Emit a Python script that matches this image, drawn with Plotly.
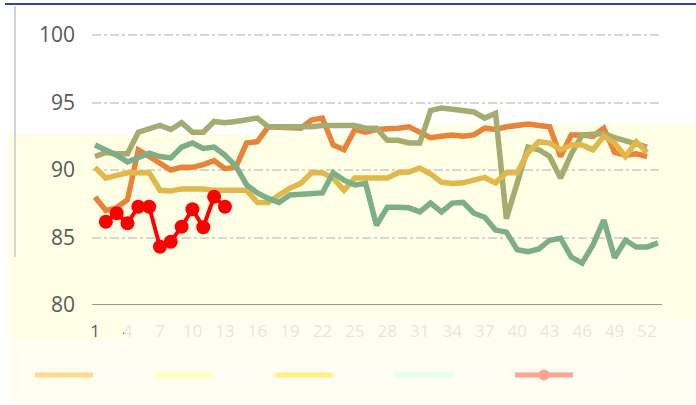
import plotly.graph_objects as go

weeks = list(range(1, 54))
tick_weeks = [1, 4, 7, 10, 13, 16, 19, 22, 25, 28, 31, 34, 37, 40, 43, 46, 49, 52]
y_ticks = [80, 85, 90, 95, 100]
names = ["2017年", "2018年", "2019年", "2020年", "2021年"]

s2017 = [88.0, 87.0, 87.2, 87.8, 91.5, 91.0, 90.5, 90.0, 90.2, 90.2,
         90.4, 90.7, 90.1, 90.2, 92.0, 92.1, 93.2, 93.2, 93.2, 93.1,
         93.7, 93.85, 91.85, 91.5, 93.0, 92.8, 93.0, 93.0, 93.1, 93.2,
         92.8, 92.4, 92.5, 92.6, 92.5, 92.6, 93.1, 93.0, 93.2, 93.3,
         93.4, 93.3, 93.2, 91.0, 92.6, 92.6, 92.5, 93.1, 91.3, 91.1,
         91.2, 91.0]
s2018 = [91.0, 91.3, 91.2, 91.2, 92.8, 93.1, 93.3, 93.0, 93.5, 92.8,
         92.8, 93.6, 93.5, 93.6, 93.7, 93.85, 93.2, 93.2, 93.1, 93.1,
         93.2, 93.3, 93.3, 93.3, 93.3, 93.1, 93.1, 92.2, 92.2, 92.0,
         92.0, 94.4, 94.6, 94.5, 94.4, 94.3, 93.85, 94.2, 86.4, 89.2,
         91.7, 91.5, 91.0, 89.4, 91.2, 92.6, 92.7, 92.7, 92.4, 92.2,
         92.0, 91.7]
s2019 = [90.2, 89.4, 89.6, 89.8, 89.8, 89.8, 88.5, 88.45, 88.6, 88.65,
         88.6, 88.5, 88.5, 88.5, 88.5, 87.6, 87.6, 88.15, 88.65, 89.0,
         89.8, 89.8, 89.4, 88.5, 89.4, 89.4, 89.4, 89.4, 89.8, 89.85,
         90.15, 89.7, 89.1, 89.0, 89.05, 89.25, 89.45, 89.05, 89.8, 89.8,
         91.3, 92.1, 92.0, 91.5, 91.85, 91.85, 91.5, 92.5, 92.0, 91.0,
         92.1, 91.3]
s2020 = [91.85, 91.5, 91.1, 90.6, 90.9, 91.25, 91.0, 90.9, 91.7, 92.0,
         91.6, 91.7, 91.1, 90.3, 88.9, 88.3, 87.9, 87.6, 88.15, 88.2,
         88.2, 88.3, 89.8, 89.25, 88.9, 89.0, 85.9, 87.25, 87.25, 87.2,
         86.9, 87.55, 86.9, 87.55, 87.6, 86.8, 86.5, 85.55, 85.4, 84.1,
         83.95, 84.15, 84.8, 84.95, 83.55, 83.1, 84.45, 86.3, 83.5, 84.8,
         84.3, 84.3, 84.6]
s2021_weeks = [2, 3, 4, 5, 6, 7, 8, 9, 10, 11, 12, 13]
s2021 = [86.17, 86.8, 86.05, 87.28, 87.28, 84.32, 84.69, 85.8, 87.09, 85.76,
         88.02, 87.28]

line_colors = ["#E8843A", "#A5AC70", "#E2B84A", "#7DAE87", "#FF0000"]
legend_colors = ["#FFD98E", "#FFFFB5", "#FFF27A", "#E2FFF4", "#FFA394"]

PW, PH, L, T = 567, 274, 92, 31


def px(x):
    return (x - L) / PW


def py(y):
    return (T + PH - y) / PH


fig = go.Figure()
series = [s2017, s2018, s2019, s2020]
for vals, col in zip(series, line_colors[:4]):
    fig.add_trace(go.Scatter(x=weeks[:len(vals)], y=vals, mode="lines",
                             line=dict(color=col, width=5.5), showlegend=False,
                             hoverinfo="skip"))
fig.add_trace(go.Scatter(x=s2021_weeks, y=s2021, mode="lines+markers",
                         line=dict(color=line_colors[4], width=4),
                         marker=dict(size=14, color=line_colors[4]),
                         showlegend=False, hoverinfo="skip"))

# legend entries (washed colours as in the reference)
for i, (nm, col) in enumerate(zip(names, legend_colors)):
    fig.add_trace(go.Scatter(x=[None], y=[None], name=nm,
                             mode="lines+markers" if i == 4 else "lines",
                             line=dict(color=col, width=5),
                             marker=dict(size=11, color=col)))

shapes = [
    # pale yellow region
    dict(type="rect", xref="paper", yref="paper", layer="below",
         x0=px(8), x1=px(700), y0=py(340), y1=py(134),
         fillcolor="#FFFFE6", line=dict(width=0)),
    dict(type="rect", xref="paper", yref="paper", layer="below",
         x0=px(430), x1=px(700), y0=py(340), y1=py(124),
         fillcolor="#FFFFE6", line=dict(width=0)),
    # bottom cream region
    dict(type="rect", xref="paper", yref="paper", layer="below",
         x0=px(8), x1=px(700), y0=py(403), y1=py(339),
         fillcolor="#FFFDF1", line=dict(width=0)),
    # left grey border
    dict(type="line", xref="paper", yref="paper", layer="below",
         x0=px(15), x1=px(15), y0=py(257), y1=py(6),
         line=dict(color="#D4D4D4", width=2)),
    # top blue rule
    dict(type="line", xref="paper", yref="paper", layer="below",
         x0=px(5), x1=px(700), y0=py(4), y1=py(4),
         line=dict(color="#3B3F9C", width=2)),
    # washed tick-label band
    dict(type="rect", xref="paper", yref="paper", layer="above",
         x0=px(124), x1=px(700), y0=py(340), y1=py(320),
         fillcolor="#FFFDF1", opacity=0.85, line=dict(width=0)),
]

fig.update_layout(
    width=696, height=405,
    margin=dict(l=L, r=696 - L - PW, t=T, b=405 - T - PH, autoexpand=False),
    paper_bgcolor="white", plot_bgcolor="rgba(0,0,0,0)",
    font=dict(family="Open Sans, DejaVu Sans, sans-serif", color="#595959"),
    shapes=shapes,
    showlegend=True,
    legend=dict(orientation="h", x=px(30), xanchor="left",
                y=py(375), yanchor="middle", itemwidth=58,
                font=dict(size=13, color="#FFFFFF"),
                bgcolor="rgba(0,0,0,0)", traceorder="normal",
                entrywidth=47, entrywidthmode="pixels"),
    xaxis=dict(range=[0.72, 53.1], tickmode="array", tickvals=tick_weeks,
               ticktext=[str(t) for t in tick_weeks], showgrid=False,
               zeroline=False, showline=False, ticks="",
               ticklabelstandoff=14,
               tickfont=dict(size=17, color="#595959")),
    yaxis=dict(range=[80, 100.3], tickmode="array", tickvals=y_ticks,
               showgrid=True, gridcolor="#D6D6D6", gridwidth=1.5,
               griddash="dashdot", zeroline=False, showline=False, ticks="",
               ticklabelstandoff=16,
               tickfont=dict(size=21, color="#595959")),
)
# x axis baseline at 80
fig.add_shape(type="line", xref="paper", yref="y", x0=0, x1=1.005, y0=80, y1=80,
              line=dict(color="#9A9A7C", width=2), layer="above")

fig.write_html("out.html", config={"displayModeBar": False},
               post_script="document.body.style.margin='0px';")
